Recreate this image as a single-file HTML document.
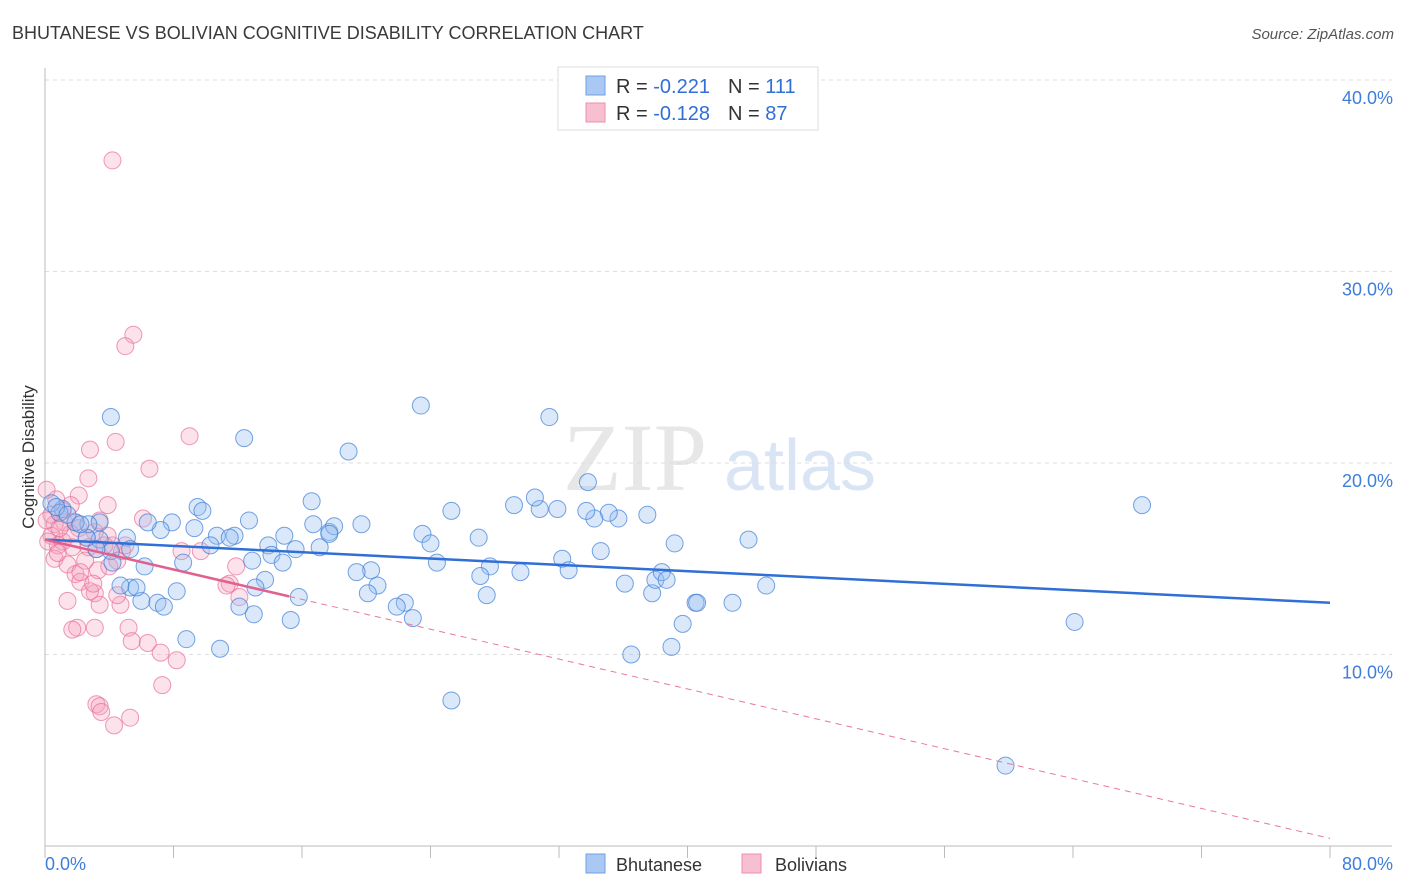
<!DOCTYPE html>
<html><head><meta charset="utf-8"><style>
body{margin:0;background:#fff;font-family:"Liberation Sans",sans-serif;}
svg{display:block}
</style></head><body>
<svg id="c" width="1406" height="892">
<text x="12" y="39" font-size="18" fill="#3a3a3a">BHUTANESE VS BOLIVIAN COGNITIVE DISABILITY CORRELATION CHART</text>
<text x="1394" y="39" font-size="15" fill="#555" font-style="italic" text-anchor="end">Source: ZipAtlas.com</text>
<g>
<text x="635" y="490" font-size="96" fill="#ddd" font-family="Liberation Serif,serif" text-anchor="middle" opacity="0.7">ZIP</text>
<text x="800" y="490" font-size="72" fill="#c9daf2" text-anchor="middle" opacity="0.7">atlas</text>
</g>
<text x="34" y="457" font-size="17" fill="#333" text-anchor="middle" transform="rotate(-90 34 457)">Cognitive Disability</text>
<g id="grid"></g><g id="marks"></g>
<g>
<rect x="558" y="67" width="260" height="63" fill="#fff" stroke="#ddd"/>
<rect x="586" y="76" width="19" height="19" fill="#a9c8f3" stroke="#6f9fe0"/>
<rect x="586" y="103" width="19" height="19" fill="#f8bfd0" stroke="#ec8fae"/>
<text x="616" y="93" font-size="20" fill="#333">R = <tspan fill="#2f6fd6">-0.221</tspan><tspan dx="18">N = </tspan><tspan fill="#2f6fd6">111</tspan></text>
<text x="616" y="120" font-size="20" fill="#333">R = <tspan fill="#2f6fd6">-0.128</tspan><tspan dx="18">N = </tspan><tspan fill="#2f6fd6">87</tspan></text>
</g>
<g>
<rect x="586" y="854" width="19" height="19" fill="#a9c8f3" stroke="#6f9fe0"/>
<text x="616" y="871" font-size="18" fill="#333">Bhutanese</text>
<rect x="742" y="854" width="19" height="19" fill="#f8bfd0" stroke="#ec8fae"/>
<text x="775" y="871" font-size="18" fill="#333">Bolivians</text>
</g>
</svg>
<script>
const yTicks=[10,20,30,40];
const yTickLabels=["10.0%","20.0%","30.0%","40.0%"];
const xTickLabels=["0.0%","80.0%"];
const blueX=[4.1,12.4,23.4,31.4,18.9,33.8,68.3,64.1,59.8,25.3,10.9,8.8,36.5,39.0,39.7,43.8,44.9,42.8,40.5,37.5,35.7,35.1,34.2,33.7,31.9,30.8,30.5,29.2,25.3,23.5,24.0,24.4,27.0,27.7,27.1,27.5,29.6,32.2,32.6,34.6,36.1,37.8,38.0,38.4,38.7,39.2,40.6,22.9,22.4,21.9,20.7,20.3,19.4,20.1,16.6,16.7,17.7,18.0,17.7,19.7,17.1,15.6,14.9,13.9,14.1,13.7,14.8,15.8,15.3,13.0,12.1,12.9,11.8,10.7,10.3,9.5,9.8,9.3,7.9,7.2,6.4,5.1,5.3,6.2,5.3,6.0,7.0,7.4,8.2,8.6,4.1,3.4,3.2,2.6,3.4,2.7,1.9,1.1,0.4,0.9,0.7,1.4,2.2,4.2,4.7,5.7,12.7,11.5,13.1];
const blueY=[22.4,21.3,23.0,22.4,20.6,19.0,17.8,11.7,4.2,7.6,10.3,10.8,10.0,10.4,11.6,16.0,13.6,12.7,12.7,17.3,17.1,17.4,17.1,17.5,17.6,17.6,18.2,17.8,17.5,16.3,15.8,14.8,16.1,14.6,14.1,13.1,14.3,15.0,14.4,15.4,13.7,13.2,13.9,14.3,13.9,15.8,12.7,11.9,12.7,12.5,13.6,14.4,14.3,13.2,18.0,16.8,16.4,16.7,16.3,16.8,15.6,15.5,16.2,15.7,15.2,13.9,14.8,13.0,11.8,12.1,12.5,14.9,16.2,16.2,15.7,17.7,17.5,16.6,16.9,16.5,16.9,16.1,15.5,14.6,13.5,12.8,12.7,12.5,13.3,14.8,15.4,16.0,15.5,16.1,16.9,16.8,16.9,17.6,17.9,17.4,17.7,17.3,16.8,14.8,13.6,13.5,17.0,16.1,13.5];
const pinkX=[4.2,5.5,5.0,9.0,2.8,4.4,6.5,2.7,2.1,3.9,1.6,6.1,0.7,1.1,1.2,0.6,1.9,2.1,3.1,2.6,0.8,1.7,2.7,3.2,4.2,4.8,8.5,9.7,0.6,1.4,1.9,2.2,3.3,4.0,4.5,11.5,11.9,11.3,12.1,3.1,3.4,4.7,4.5,1.4,2.8,5.2,2.0,1.7,3.1,5.4,6.4,7.2,8.2,7.3,3.2,3.4,3.5,4.3,5.3,0.4,0.2,1.1,2.5,0.8,3.7,2.2,3.0,0.1,0.4,1.6,3.4,3.9,5.0,0.1,0.9];
const pinkY=[35.8,26.7,26.1,21.4,20.7,21.1,19.7,19.2,18.3,17.8,17.8,17.1,18.1,17.5,16.9,16.8,16.9,16.6,16.4,16.1,15.7,15.6,15.6,15.5,15.7,15.4,15.4,15.4,15.0,14.7,14.2,13.8,14.4,14.6,14.9,13.7,14.6,13.6,13.0,13.2,12.6,12.6,13.1,12.8,13.3,11.4,11.4,11.3,11.4,10.7,10.6,10.1,9.7,8.4,7.4,7.3,7.0,6.3,6.7,16.2,15.9,15.9,14.9,15.3,15.7,14.3,13.7,18.6,17.3,16.3,17.0,16.2,15.7,17.0,16.6];
const blueTrend=[16.0,12.7];   // y at x=0 and x=80
const pinkTrend=[16.0,0.4];    // y at x=0 and x=80
const pinkSolidEnd=15.2;

const X0=45,X1=1330,Y0=846,Y1=80;
const sx=v=>X0+(v/80)*(X1-X0);
const sy=v=>Y0-(v/40)*(Y0-Y1);
const NS="http://www.w3.org/2000/svg";
function mk(t,a,p){const e=document.createElementNS(NS,t);for(const k in a)e.setAttribute(k,a[k]);p.appendChild(e);return e;}
const g=document.getElementById('grid'),m=document.getElementById('marks');
yTicks.forEach((t,i)=>{
 const l=mk('line',{x1:X0,x2:1392,y1:sy(t),y2:sy(t),stroke:'#ddd','stroke-dasharray':'4,4'},g);
 
 
 const tx=mk('text',{x:1393,y:sy(t)+24,'font-size':18,fill:'#3f7ddb','text-anchor':'end'},g);
 tx.textContent=yTickLabels[i];
 
 
});
const ya=mk('line',{x1:X0,x2:X0,y1:68,y2:Y0,stroke:'#bbb'},g);


const xa=mk('line',{x1:X0,x2:1392,y1:Y0,y2:Y0,stroke:'#bbb'},g);


for(let i=0;i<=10;i++){const t=mk('line',{x1:sx(i*8),x2:sx(i*8),y1:Y0,y2:Y0+12,stroke:'#bbb'},g);
 
 }
[[0,'start',45],[80,'end',1393]].forEach((d,i)=>{const t=mk('text',{x:d[2],y:870,'font-size':18,fill:'#3f7ddb','text-anchor':d[1]},g);t.textContent=xTickLabels[i];
 
 });
function pts(xs,ys,fill,stroke,name){xs.forEach((x,i)=>{const c=mk('circle',{cx:sx(x),cy:sy(ys[i]),r:8.5,fill:fill,stroke:stroke,'stroke-width':1},m);
 
 });}
pts(pinkX,pinkY,'rgba(244,160,190,0.3)','rgba(232,110,150,0.7)','bolivians-point');
pts(blueX,blueY,'rgba(150,190,240,0.35)','rgba(60,125,215,0.7)','bhutanese-point');
const ty=(tr,x)=>tr[0]+(tr[1]-tr[0])*x/80;
const bl=mk('line',{x1:sx(0),y1:sy(ty(blueTrend,0)),x2:sx(80),y2:sy(ty(blueTrend,80)),stroke:'#2f6fd6','stroke-width':2.5},m);


const pd=mk('line',{x1:sx(pinkSolidEnd),y1:sy(ty(pinkTrend,pinkSolidEnd)),x2:sx(80),y2:sy(ty(pinkTrend,80)),stroke:'#e8799c','stroke-width':1,'stroke-dasharray':'6,5'},m);


const ps=mk('line',{x1:sx(0),y1:sy(ty(pinkTrend,0)),x2:sx(pinkSolidEnd),y2:sy(ty(pinkTrend,pinkSolidEnd)),stroke:'#e0608f','stroke-width':2.5},m);


</script>
</body></html>
